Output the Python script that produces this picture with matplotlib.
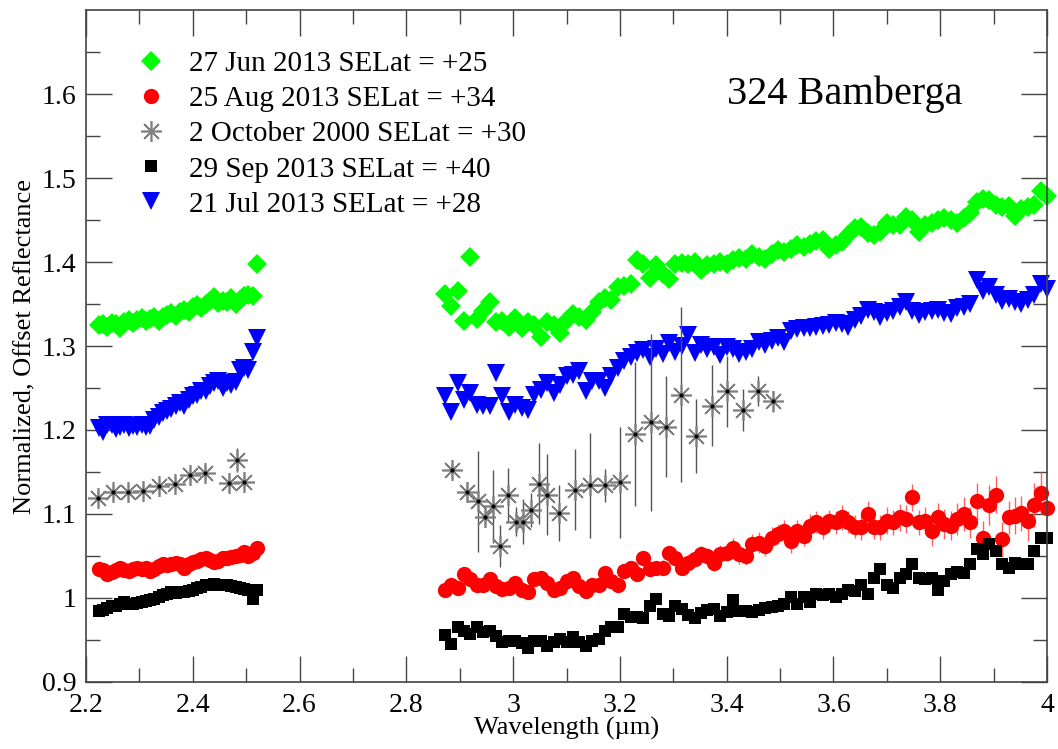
import matplotlib
matplotlib.use("Agg")
from matplotlib import pyplot as plt
from matplotlib.ticker import MultipleLocator, FormatStrFormatter
from matplotlib.lines import Line2D

plt.rcParams["font.family"] = ["Liberation Serif", "DejaVu Serif"]

# wavelength grids (um) shared by the 2013 spectra
wl_left = [2.224, 2.232, 2.240, 2.248, 2.256, 2.264, 2.272, 2.280, 2.288, 2.296,
           2.304, 2.312, 2.320, 2.328, 2.336, 2.344, 2.352, 2.360, 2.368, 2.376,
           2.384, 2.392, 2.400, 2.408, 2.416, 2.424, 2.432, 2.440, 2.448, 2.456,
           2.464, 2.472, 2.480, 2.488, 2.496, 2.504, 2.512, 2.520]
wl_right = [2.872, 2.884, 2.896, 2.908, 2.920, 2.932, 2.944, 2.956, 2.968, 2.980,
            2.992, 3.004, 3.016, 3.028, 3.040, 3.052, 3.064, 3.076, 3.088, 3.100,
            3.112, 3.124, 3.136, 3.148, 3.160, 3.172, 3.184, 3.196, 3.208, 3.220,
            3.232, 3.244, 3.256, 3.268, 3.280, 3.292, 3.304, 3.316, 3.328, 3.340,
            3.352, 3.364, 3.376, 3.388, 3.400, 3.412, 3.424, 3.436, 3.448, 3.460,
            3.472, 3.484, 3.496, 3.508, 3.520, 3.532, 3.544, 3.556, 3.568, 3.580,
            3.592, 3.604, 3.616, 3.628, 3.640, 3.652, 3.664, 3.676, 3.688, 3.700,
            3.712, 3.724, 3.736, 3.748, 3.760, 3.772, 3.784, 3.796, 3.808, 3.820,
            3.832, 3.844, 3.856, 3.868, 3.880, 3.892, 3.904, 3.916, 3.928, 3.940,
            3.952, 3.964, 3.976, 3.988, 4.000]

# 27 Jun 2013 (green)
jun_left = [1.325, 1.326, 1.323, 1.327, 1.326, 1.321, 1.328, 1.331, 1.327, 1.331,
            1.333, 1.330, 1.332, 1.335, 1.330, 1.334, 1.337, 1.339, 1.336, 1.341,
            1.343, 1.340, 1.346, 1.349, 1.345, 1.350, 1.353, 1.358, 1.351, 1.354,
            1.352, 1.357, 1.350, 1.355, 1.359, 1.361, 1.359, 1.398]
jun_right = [1.362, 1.348, 1.365, 1.330, 1.406, 1.332, 1.342, 1.352, 1.328, 1.330,
             1.323, 1.333, 1.321, 1.329, 1.325, 1.311, 1.329, 1.325, 1.316, 1.331,
             1.338, 1.335, 1.331, 1.340, 1.352, 1.357, 1.355, 1.370, 1.372, 1.374,
             1.402, 1.398, 1.381, 1.396, 1.386, 1.380, 1.398, 1.399, 1.398, 1.400,
             1.390, 1.397, 1.398, 1.400, 1.398, 1.402, 1.405, 1.404, 1.410, 1.406,
             1.404, 1.410, 1.414, 1.412, 1.415, 1.420, 1.418, 1.422, 1.425, 1.426,
             1.416, 1.420, 1.424, 1.432, 1.440, 1.442, 1.434, 1.432, 1.436, 1.446,
             1.444, 1.444, 1.453, 1.450, 1.436, 1.444, 1.446, 1.450, 1.452, 1.450,
             1.446, 1.452, 1.458, 1.472, 1.475, 1.474, 1.468, 1.466, 1.467, 1.455,
             1.463, 1.466, 1.468, 1.485, 1.478]

# 21 Jul 2013 (blue)
jul_left = [1.202, 1.198, 1.206, 1.206, 1.201, 1.203, 1.206, 1.202, 1.205, 1.203,
            1.206, 1.203, 1.205, 1.212, 1.215, 1.220, 1.223, 1.225, 1.229, 1.232,
            1.228, 1.236, 1.240, 1.242, 1.246, 1.247, 1.252, 1.256, 1.258, 1.250,
            1.256, 1.254, 1.257, 1.272, 1.274, 1.272, 1.293, 1.309]
jul_right = [1.240, 1.222, 1.256, 1.236, 1.244, 1.230, 1.228, 1.228, 1.268, 1.240,
             1.222, 1.230, 1.226, 1.224, 1.242, 1.248, 1.256, 1.244, 1.254, 1.264,
             1.266, 1.270, 1.246, 1.258, 1.258, 1.250, 1.264, 1.274, 1.282, 1.287,
             1.292, 1.295, 1.287, 1.297, 1.291, 1.304, 1.293, 1.300, 1.313, 1.292,
             1.301, 1.297, 1.299, 1.289, 1.299, 1.296, 1.291, 1.293, 1.296, 1.305,
             1.301, 1.306, 1.309, 1.305, 1.318, 1.320, 1.321, 1.322, 1.323, 1.324,
             1.325, 1.327, 1.326, 1.323, 1.331, 1.336, 1.343, 1.340, 1.335, 1.339,
             1.342, 1.347, 1.352, 1.342, 1.337, 1.341, 1.342, 1.343, 1.339, 1.338,
             1.345, 1.347, 1.350, 1.378, 1.366, 1.370, 1.361, 1.354, 1.356, 1.352,
             1.350, 1.355, 1.361, 1.374, 1.368]

# 25 Aug 2013 (red)
aug_left = [1.035, 1.033, 1.029, 1.031, 1.033, 1.036, 1.033, 1.032, 1.035, 1.036,
            1.034, 1.036, 1.032, 1.034, 1.038, 1.040, 1.039, 1.040, 1.042, 1.041,
            1.036, 1.040, 1.043, 1.044, 1.046, 1.048, 1.045, 1.043, 1.044, 1.047,
            1.048, 1.049, 1.050, 1.051, 1.055, 1.050, 1.054, 1.060]
aug_right = [1.010, 1.016, 1.012, 1.028, 1.022, 1.016, 1.016, 1.022, 1.014, 1.011,
             1.012, 1.018, 1.009, 1.007, 1.022, 1.024, 1.018, 1.010, 1.012, 1.020,
             1.024, 1.014, 1.008, 1.016, 1.016, 1.030, 1.020, 1.016, 1.032, 1.036,
             1.028, 1.048, 1.034, 1.036, 1.036, 1.054, 1.048, 1.036, 1.042, 1.046,
             1.052, 1.050, 1.042, 1.052, 1.054, 1.060, 1.052, 1.050, 1.064, 1.066,
             1.062, 1.072, 1.076, 1.080, 1.068, 1.080, 1.074, 1.086, 1.090, 1.084,
             1.092, 1.090, 1.096, 1.090, 1.085, 1.084, 1.100, 1.084, 1.084, 1.092,
             1.090, 1.096, 1.094, 1.120, 1.090, 1.092, 1.080, 1.096, 1.088, 1.086,
             1.094, 1.100, 1.090, 1.115, 1.072, 1.111, 1.123, 1.070, 1.096, 1.098,
             1.101, 1.092, 1.111, 1.125, 1.107]
aug_err = [0.004, 0.004, 0.005, 0.004, 0.005, 0.004, 0.005, 0.005, 0.004, 0.005,
           0.005, 0.005, 0.006, 0.005, 0.005, 0.006, 0.005, 0.006, 0.006, 0.006,
           0.006, 0.007, 0.006, 0.007, 0.007, 0.006, 0.007, 0.007, 0.008, 0.007,
           0.008, 0.008, 0.007, 0.008, 0.009, 0.008, 0.009, 0.009, 0.010, 0.009,
           0.010, 0.009, 0.010, 0.011, 0.010, 0.011, 0.012, 0.011, 0.012, 0.012,
           0.012, 0.013, 0.012, 0.013, 0.014, 0.013, 0.012, 0.014, 0.013, 0.014,
           0.013, 0.014, 0.015, 0.013, 0.014, 0.015, 0.016, 0.014, 0.015, 0.016,
           0.015, 0.016, 0.017, 0.016, 0.015, 0.016, 0.018, 0.017, 0.018, 0.017,
           0.019, 0.020, 0.018, 0.022, 0.020, 0.024, 0.022, 0.021, 0.020, 0.022,
           0.021, 0.024, 0.026, 0.025, 0.023]

# 29 Sep 2013 (black)
sep_left = [0.985, 0.986, 0.988, 0.990, 0.991, 0.993, 0.995, 0.993, 0.993, 0.994,
            0.995, 0.996, 0.998, 0.999, 1.001, 1.003, 1.005, 1.007, 1.006, 1.007,
            1.007, 1.008, 1.010, 1.012, 1.013, 1.015, 1.016, 1.017, 1.016, 1.015,
            1.015, 1.014, 1.013, 1.012, 1.011, 1.009, 0.999, 1.009]
sep_right = [0.956, 0.945, 0.965, 0.961, 0.957, 0.965, 0.959, 0.961, 0.955, 0.947,
             0.949, 0.949, 0.946, 0.941, 0.949, 0.949, 0.943, 0.947, 0.951, 0.947,
             0.953, 0.948, 0.943, 0.949, 0.951, 0.961, 0.965, 0.966, 0.981, 0.977,
             0.977, 0.976, 0.991, 0.999, 0.981, 0.979, 0.991, 0.987, 0.980, 0.976,
             0.982, 0.986, 0.987, 0.979, 0.983, 0.997, 0.985, 0.984, 0.983, 0.986,
             0.988, 0.989, 0.991, 0.993, 1.001, 0.993, 1.001, 0.995, 1.005, 1.004,
             1.005, 1.001, 1.005, 1.009, 1.008, 1.015, 1.005, 1.024, 1.034, 1.015,
             1.012, 1.024, 1.028, 1.040, 1.024, 1.022, 1.024, 1.010, 1.020, 1.028,
             1.031, 1.030, 1.040, 1.058, 1.052, 1.064, 1.056, 1.040, 1.036, 1.042,
             1.040, 1.041, 1.056, 1.072, 1.072]

# 2 October 2000 (grey stars, own wavelengths)
oct_wl = [2.223, 2.251, 2.279, 2.307, 2.337, 2.366, 2.395, 2.423, 2.468, 2.483, 2.496,
          2.886, 2.914, 2.934, 2.948, 2.963, 2.976, 2.991, 3.006, 3.019, 3.034,
          3.048, 3.063, 3.086, 3.115, 3.144, 3.172, 3.200, 3.229, 3.258, 3.287,
          3.315, 3.343, 3.372, 3.401, 3.431, 3.458, 3.487]
oct_refl = [1.119, 1.126, 1.126, 1.127, 1.133, 1.136, 1.146, 1.149, 1.137, 1.164, 1.138,
            1.152, 1.126, 1.115, 1.097, 1.109, 1.062, 1.123, 1.091, 1.091, 1.105,
            1.136, 1.123, 1.101, 1.129, 1.134, 1.134, 1.138, 1.195, 1.209, 1.204,
            1.242, 1.193, 1.229, 1.246, 1.224, 1.246, 1.234]
oct_err = [0.008, 0.008, 0.008, 0.008, 0.008, 0.008, 0.008, 0.008, 0.008, 0.014, 0.008,
           0.008, 0.012, 0.060, 0.010, 0.043, 0.025, 0.032, 0.017, 0.027, 0.020,
           0.048, 0.048, 0.033, 0.048, 0.062, 0.020, 0.066, 0.086, 0.105, 0.060,
           0.104, 0.044, 0.048, 0.042, 0.025, 0.018, 0.012]

labels = ["27 Jun 2013 SELat = +25", "25 Aug 2013 SELat = +34",
          "2 October 2000 SELat = +30", "29 Sep 2013 SELat = +40",
          "21 Jul 2013 SELat = +28"]

fig = plt.figure(figsize=(10.58, 7.49), dpi=100)
ax = fig.add_axes([0.0813, 0.0895, 0.9083, 0.8971])

star = (8, 2, 0)
sty_jun = dict(ls="none", marker="D", ms=10, color="#00ff00", mec="#00ff00", mew=0)
sty_aug = dict(ls="none", marker="o", ms=11, color="#ff0000", mec="#ff0000", mew=0)
sty_sep = dict(ls="none", marker="s", ms=8, color="black", mec="black", mew=0)
sty_jul = dict(ls="none", marker="v", ms=12.5, color="#0000ff", mec="#0000ff", mew=0)
sty_oct = dict(ls="none", marker=star, ms=15, color="#808080", mew=1.2)

for wl, y in [(wl_left, jun_left), (wl_right, jun_right)]:
    ax.plot(wl, y, clip_on=False, **sty_jun)
for wl, y in [(wl_left, jul_left), (wl_right, jul_right)]:
    ax.plot(wl, y, clip_on=False, **sty_jul)

# error bars of the 2000 data and its stars
ax.errorbar(oct_wl, oct_refl, yerr=oct_err, fmt="none", ecolor="#555555", elinewidth=1)
ax.plot(oct_wl, oct_refl, **sty_oct)
ax.plot(oct_wl, oct_refl, ls="none", marker="o", ms=2, color="black")

ax.errorbar(wl_right, aug_right, yerr=aug_err, fmt="none", ecolor="#ff6060", elinewidth=1)
for wl, y in [(wl_left, aug_left), (wl_right, aug_right)]:
    ax.plot(wl, y, clip_on=False, **sty_aug)
for wl, y in [(wl_left, sep_left), (wl_right, sep_right)]:
    ax.plot(wl, y, clip_on=False, **sty_sep)

ax.set_xlim(2.2, 4.0)
ax.xaxis.set_major_locator(MultipleLocator(0.2))
ax.xaxis.set_minor_locator(MultipleLocator(0.1))
ax.xaxis.set_major_formatter(FormatStrFormatter("%g"))
ax.yaxis.set_major_formatter(FormatStrFormatter("%g"))
ax.set_yticks([0.9, 1.0, 1.1, 1.2, 1.3, 1.4, 1.5, 1.6])
ax.set_yticks([0.95, 1.05, 1.15, 1.25, 1.35, 1.45, 1.55, 1.65], minor=True)
ax.set_ylim(0.9, 1.7)

ax.tick_params(which="both", direction="in", top=True, right=True,
               labelsize=20, color="#444444", width=1)
ax.tick_params(which="major", length=19)
ax.tick_params(axis="x", which="major", pad=8)
ax.tick_params(axis="y", which="major", pad=7)
ax.tick_params(which="minor", length=10)
for s in ax.spines.values():
    s.set_color("#444444")
    s.set_linewidth(1.2)

ax.set_xlabel("Wavelength (\u00b5m)", fontsize=19, labelpad=-1)
ax.set_ylabel("Normalized, Offset Reflectance", fontsize=19, labelpad=4)

ax.text(0.79, 0.875, "324 Bamberga", transform=ax.transAxes, fontsize=29,
        ha="center", va="center")

handles = [Line2D([], [], **sty_jun), Line2D([], [], **sty_aug),
           Line2D([], [], **sty_oct), Line2D([], [], **sty_sep),
           Line2D([], [], **sty_jul)]
ax.legend(handles, labels, loc="upper left", bbox_to_anchor=(0.037, 0.957),
          frameon=False, fontsize=21, handlelength=1.2, handletextpad=0.7,
          labelspacing=0.3, borderaxespad=0)

fig.savefig("out.png", dpi=100)
